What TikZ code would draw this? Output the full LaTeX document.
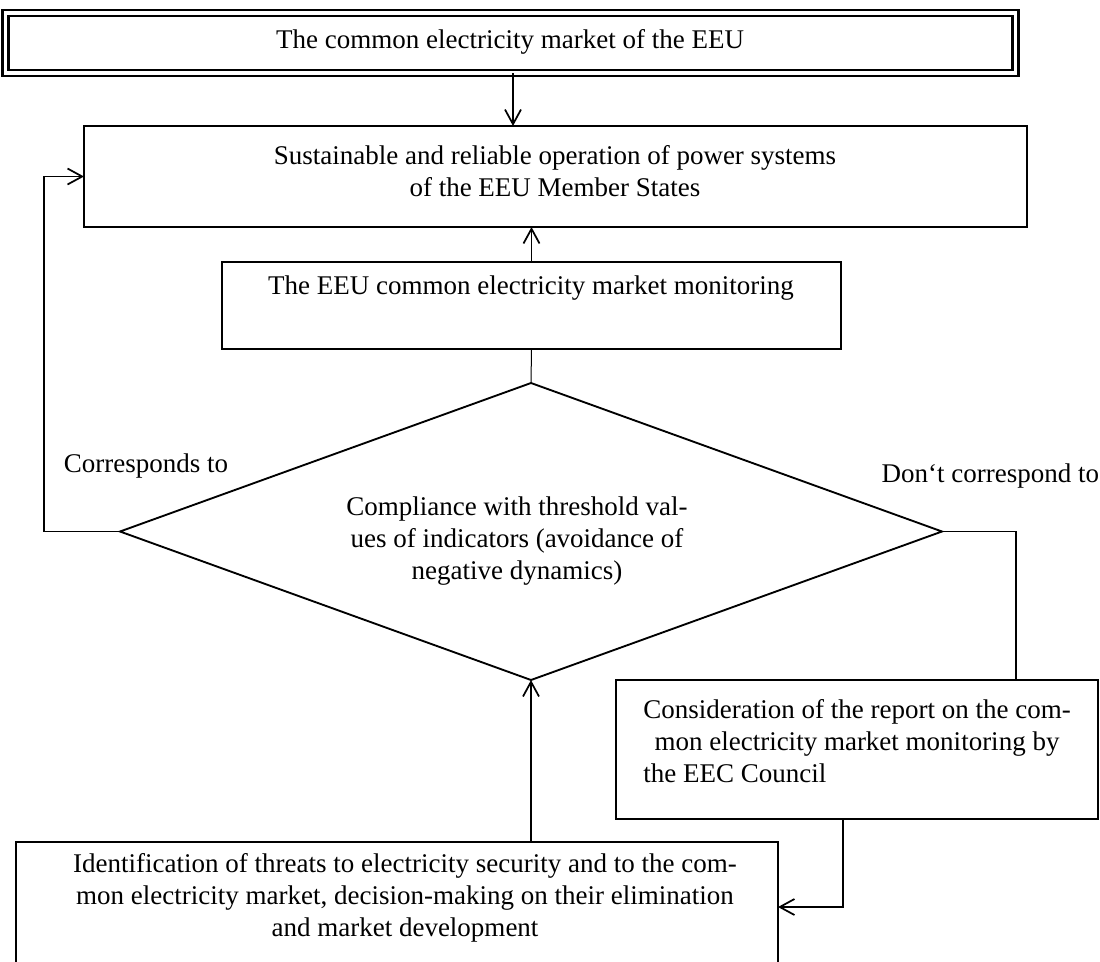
\documentclass[tikz,border=0pt]{standalone}
\usepackage{fontspec}
\setmainfont{Liberation Serif}
\usetikzlibrary{shapes.geometric,arrows.meta}
\begin{document}
\begin{tikzpicture}[x=0.75pt,y=-0.75pt,
  every node/.style={font=\fontsize{20.25pt}{24pt}\selectfont},
  box/.style={draw,line width=1.4pt,inner sep=0pt,outer sep=0pt},
  txt/.style={inner sep=0pt,outer sep=0pt,align=center},
  conn/.style={line width=1.3pt},
  arr/.style={line width=1.3pt,-{Straight Barb[length=11pt,width=12pt,line width=1.3pt]}},
  thinconn/.style={line width=0.75pt}]
\useasboundingbox (0,0) rectangle (1100,961);
% top box with double border
\node[draw,line width=1.9pt,double=white,double distance=2.6pt,inner sep=0pt,outer sep=0pt,
      minimum width=1010*0.75pt,minimum height=60*0.75pt] (top) at (510.5,43) {};
\node[txt] (ttop) at (510,42) {The common electricity market of the EEU};
% box 2
\node[box,minimum width=943*0.75pt,minimum height=101*0.75pt] (b2) at (555.5,176.5) {};
\node[txt] (t2) at (555,171) {Sustainable and reliable operation of power systems\\of the EEU Member States};
% box 3
\node[box,minimum width=619*0.75pt,minimum height=87*0.75pt] (b3) at (531.5,305.5) {};
\node[txt] (t3) at (531,288) {The EEU common electricity market monitoring};
% diamond
\node[draw,diamond,line width=1.4pt,inner sep=0pt,outer sep=0pt,
      minimum width=822*0.75pt,minimum height=297*0.75pt] (dia) at (531,531.5) {};
\node[txt] (tdia) at (517,541) {Compliance with threshold val-\\ues of indicators (avoidance of\\negative dynamics)};
% box 4
\node[box,minimum width=482*0.75pt,minimum height=139*0.75pt] (b4) at (857,749.5) {};
\node[txt] (t4) at (857,741) {Consideration of the report on the com-\\mon electricity market monitoring by\\\rlap{the EEC Council}\hphantom{Consideration of the report on the com-}};
% box 5 (cut at the bottom)
\node[box,minimum width=762*0.75pt,minimum height=150*0.75pt] (b5) at (397,917) {};
\node[txt] (t5) at (405,898) {Identification of threats to electricity security and to the com-\\mon electricity market, decision-making on their elimination\\and market development};
% labels
\node[txt] (lab1) at (146,466) {Corresponds to};
\node[txt,anchor=east] (lab2) at (1099,476) {Don`t correspond to};
% connectors
\coordinate (c1) at (513,0);
\draw[arr] (c1 |- top.south) -- (c1 |- b2.north);
\draw[arr] (b3.north) -- (b3.north |- b2.south);
\draw[thinconn] (b3.south) -- (dia.north);
\draw[arr] (dia.west) -- ++(-76,0) |- (b2.west);
\coordinate (c5) at (1016,531.5);
\draw[conn] (dia.east) -- (c5) -- (c5 |- b4.north);
\coordinate (c6) at (843,907);
\draw[arr] (c6 |- b4.south) -- (c6) -- (c6 -| b5.east);
\draw[arr] (dia.south |- b5.north) -- (dia.south);
\end{tikzpicture}
\end{document}
